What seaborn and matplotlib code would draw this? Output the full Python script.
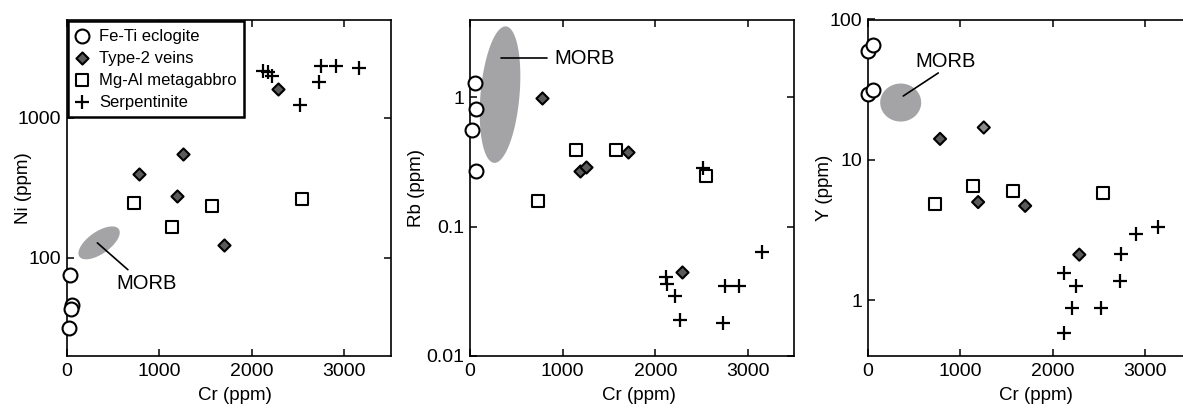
import numpy as np
import pandas as pd
import matplotlib
matplotlib.use("Agg")
import matplotlib.pyplot as plt
import seaborn as sns
from matplotlib.ticker import FixedLocator, FixedFormatter, NullLocator

# ---------------- data ----------------
groups = ["Fe-Ti eclogite", "Type-2 veins", "Mg-Al metagabbro", "Serpentinite"]

# Panel 1: Ni vs Cr
ni_eclogite_cr = [36, 54, 47, 25]
ni_eclogite = [76, 46, 43, 31.6]
ni_veins_cr = [776, 1256, 1191, 1697, 2285]
ni_veins = [396, 553, 275, 124, 1600]
ni_gabbro_cr = [729, 1141, 1570, 2542]
ni_gabbro = [248, 166, 233, 264]
ni_serp_cr = [2120, 2170, 2220, 2520, 2726, 2744, 2907, 3153]
ni_serp = [2140, 2110, 1970, 1224, 1795, 2313, 2313, 2240]

# Panel 2: Rb vs Cr
rb_eclogite_cr = [54, 65, 18, 65]
rb_eclogite = [1.30, 0.81, 0.56, 0.27]
rb_veins_cr = [780, 1191, 1256, 1704, 2289]
rb_veins = [0.98, 0.27, 0.29, 0.38, 0.045]
rb_gabbro_cr = [733, 1144, 1578, 2545]
rb_gabbro = [0.158, 0.39, 0.39, 0.245]
rb_serp_cr = [2520, 2119, 2130, 2209, 2264, 2733, 2751, 2906, 3152]
rb_serp = [0.284, 0.041, 0.036, 0.029, 0.019, 0.018, 0.035, 0.035, 0.0635]

# Panel 3: Y vs Cr
y_eclogite_cr = [6, 61, 6, 61]
y_eclogite = [60, 65.5, 29.6, 31.3]
y_veins_cr = [783, 1256, 1195, 1704, 2290]
y_veins = [14.1, 17.0, 5.0, 4.7, 2.11]
y_gabbro_cr = [729, 1144, 1574, 2543]
y_gabbro = [4.85, 6.5, 6.0, 5.81]
y_serp_cr = [2124, 2254, 2208, 2124, 2521, 2731, 2741, 2904, 3145]
y_serp = [1.57, 1.26, 0.885, 0.587, 0.885, 1.37, 2.13, 2.96, 3.34]

# MORB field centres (Cr, element)
morb_cr = [350, 324, 357]
morb_val = [128, 1.05, 25.6]

x_ticks = [0, 1000, 2000, 3000]
x_tick_labels = ["0", "1000", "2000", "3000"]
ni_ticks = [100, 1000]
ni_tick_labels = ["100", "1000"]
rb_ticks = [0.01, 0.1, 1]
rb_tick_labels = ["0.01", "0.1", "1"]
yy_ticks = [1, 10, 100]
yy_tick_labels = ["1", "10", "100"]

# ---------------- style ----------------
sns.set_style("ticks")
plt.rcParams["font.family"] = ["Liberation Sans", "DejaVu Sans"]
plt.rcParams["axes.linewidth"] = 1.2
plt.rcParams["text.color"] = "black"
plt.rcParams["axes.labelcolor"] = "black"
plt.rcParams["xtick.color"] = "black"
plt.rcParams["ytick.color"] = "black"
plt.rcParams["axes.edgecolor"] = "black"

W, H = 1183, 407
fig = plt.figure(figsize=(W / 100, H / 100), dpi=100)

def frac(left, top, width, bottom):
    return [left / W, (H - bottom) / H, width / W, (bottom - top) / H]

ax1 = fig.add_axes(frac(66.7, 19.5, 324.0, 356.0))
ax2 = fig.add_axes(frac(470.0, 19.5, 324.3, 356.0))
ax3 = fig.add_axes(frac(867.7, 19.5, 323.4, 356.0))

veins_gray = "#5a5a5a"
styles = {
    "Fe-Ti eclogite": dict(marker="o", s=100, color="white", edgecolor="black", linewidth=1.5),
    "Type-2 veins": dict(marker="D", s=38, color=veins_gray, edgecolor="black", linewidth=1.5),
    "Mg-Al metagabbro": dict(marker="s", s=66, color="white", edgecolor="black", linewidth=1.5),
    "Serpentinite": dict(marker="+", s=105, color="black", linewidth=1.6),
}

def make_df(series):
    frames = []
    for g, (xs, ys) in zip(groups, series):
        frames.append(pd.DataFrame({"Cr": xs, "val": ys, "group": g}))
    return pd.concat(frames, ignore_index=True)

panels = [
    (ax1, make_df([(ni_eclogite_cr, ni_eclogite), (ni_veins_cr, ni_veins),
                   (ni_gabbro_cr, ni_gabbro), (ni_serp_cr, ni_serp)]),
     "Ni (ppm)", (20, 5000), ni_ticks, ni_tick_labels, -0.108),
    (ax2, make_df([(rb_eclogite_cr, rb_eclogite), (rb_veins_cr, rb_veins),
                   (rb_gabbro_cr, rb_gabbro), (rb_serp_cr, rb_serp)]),
     "Rb (ppm)", (0.01, 4.0), rb_ticks, rb_tick_labels, -0.139),
    (ax3, make_df([(y_eclogite_cr, y_eclogite), (y_veins_cr, y_veins),
                   (y_gabbro_cr, y_gabbro), (y_serp_cr, y_serp)]),
     "Y (ppm)", (0.4, 100), yy_ticks, yy_tick_labels, -0.108),
]

morb_geom = [  # width px, height px, angle deg
    (48, 22, 35),
    (137, 39, 85),
    (41, 38, 0),
]
morb_color = "#a4a4a7"

for i, (ax, df, ylab, ylim, yt, ytl, ylab_x) in enumerate(panels):
    ax.set_yscale("log")
    ax.set_xlim(0, 3500)
    ax.set_ylim(*ylim)
    for g in groups:
        sub = df[df["group"] == g]
        sns.scatterplot(data=sub, x="Cr", y="val", ax=ax, label=g if i == 0 else None,
                        legend=False, zorder=3, clip_on=False, **styles[g])
    ax.xaxis.set_major_locator(FixedLocator(x_ticks))
    ax.xaxis.set_major_formatter(FixedFormatter(x_tick_labels))
    ax.yaxis.set_major_locator(FixedLocator(yt))
    ax.yaxis.set_major_formatter(FixedFormatter(ytl))
    ax.yaxis.set_minor_locator(NullLocator())
    ax.xaxis.set_minor_locator(NullLocator())
    ax.tick_params(which="major", direction="in", top=True, right=True,
                   length=5, width=1.1, labelsize=14, pad=5, colors="black")
    ax.tick_params(axis="y", pad=4)
    ax.set_xlabel("Cr (ppm)", fontsize=13.5)
    ax.set_ylabel(ylab, fontsize=13.5)
    ax.xaxis.set_label_coords(0.52, -0.093)
    ax.yaxis.set_label_coords(ylab_x, 0.5)
    for sp in ax.spines.values():
        sp.set_visible(True)
        sp.set_color("black")

    # MORB field drawn as an ellipse in screen space around its data centre
    w, h, ang = morb_geom[i]
    cx, cy = ax.transData.transform((morb_cr[i], morb_val[i]))
    t = np.linspace(0, 2 * np.pi, 200)
    a, b = w / 2, h / 2
    th = np.deg2rad(ang)
    px = cx + a * np.cos(t) * np.cos(th) - b * np.sin(t) * np.sin(th)
    py = cy + a * np.cos(t) * np.sin(th) + b * np.sin(t) * np.cos(th)
    pts = ax.transData.inverted().transform(np.column_stack([px, py]))
    ax.fill(pts[:, 0], pts[:, 1], color=morb_color, lw=0, zorder=1)

# lighter diamond in the Y panel
coll = ax3.collections[1]
fcs = [veins_gray] * len(y_veins)
fcs[1] = "#8a8a8a"
coll.set_facecolors(fcs)

# MORB labels and leader lines
ax1.plot([331, 661], [128, 82.4], color="black", lw=1.2, zorder=2)
ax1.text(867, 65.2, "MORB", fontsize=14.5, ha="center", va="center")
ax2.plot([335, 835], [2.01, 2.01], color="black", lw=1.2, zorder=2)
ax2.text(910, 2.01, "MORB", fontsize=14.5, ha="left", va="center")
ax3.plot([385, 764], [28.5, 41.6], color="black", lw=1.2, zorder=2)
ax3.text(844, 49.8, "MORB", fontsize=14.5, ha="center", va="center")

leg = ax1.legend(loc="upper left", bbox_to_anchor=(0.005, 0.995), borderaxespad=0,
                 fontsize=12, frameon=True, fancybox=False, framealpha=1,
                 edgecolor="black", handlelength=0.8, handletextpad=0.6,
                 labelspacing=0.42, borderpad=0.45, markerscale=1.0)
leg.get_frame().set_linewidth(1.8)
leg.set_zorder(5)

fig.savefig("out.png", dpi=100)
